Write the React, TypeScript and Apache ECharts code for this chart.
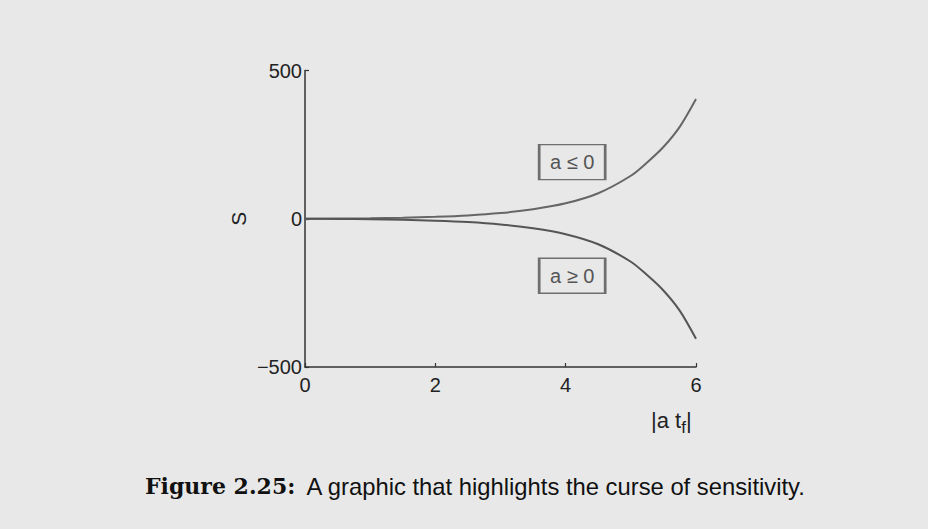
import React, { useEffect, useRef } from "react";
import * as echarts from "echarts";

const xValues = [0, 0.5, 1, 1.5, 2, 2.5, 3, 3.5, 4, 4.5, 5, 5.25, 5.5, 5.75, 6];
const upperS = [0, 0.6, 1.7, 3.5, 6.4, 11, 19, 32, 52, 86, 145, 190, 242, 310, 404];
const lowerS = [0, -0.6, -1.7, -3.5, -6.4, -11, -19, -32, -52, -86, -145, -190, -242, -310, -405];
const xTicks = [0, 2, 4, 6];
const yTicks = [-500, 0, 500];
const boxLabels = ["a \u2264 0", "a \u2265 0"];
const boxCoords: [number, number][] = [[4.1, 191], [4.1, -192]];

export default function App() {
  const ref = useRef<HTMLDivElement>(null);
  useEffect(() => {
    if (!ref.current) return;
    const chart = echarts.init(ref.current, null, { renderer: "svg" });
    const lineColor = "#555555";
    const axisColor = "#333333";
    const mk = (i: number) => ({
      coord: boxCoords[i],
      symbol: "rect",
      symbolSize: [66, 35],
      itemStyle: { color: "rgba(0,0,0,0)", borderColor: "#6e6e6e", borderWidth: 2 },
      label: {
        show: true,
        position: "inside",
        formatter: boxLabels[i],
        color: "#555",
        fontSize: 20,
        fontFamily: "Liberation Sans",
      },
    });
    chart.setOption({
      animation: false,
      backgroundColor: "#e8e8e8",
      grid: { left: 305, right: 232, top: 70.5, bottom: 162, containLabel: false },
      xAxis: {
        type: "value",
        min: xTicks[0],
        max: xTicks[xTicks.length - 1],
        interval: 2,
        axisLine: { onZero: false, lineStyle: { color: axisColor, width: 1.5 } },
        axisTick: { inside: true, length: 4, lineStyle: { color: axisColor, width: 1.2 } },
        splitLine: { show: false },
        axisLabel: { color: "#222", fontSize: 20, fontFamily: "Liberation Sans", margin: 8 },
      },
      yAxis: {
        type: "value",
        min: yTicks[0],
        max: yTicks[yTicks.length - 1],
        interval: 500,
        axisLine: { show: true, onZero: false, lineStyle: { color: axisColor, width: 1.5 } },
        axisTick: { show: true, inside: true, length: 4, lineStyle: { color: axisColor, width: 1.2 } },
        splitLine: { show: false },
        axisLabel: {
          color: "#222",
          fontSize: 20,
          fontFamily: "Liberation Sans",
          margin: 3,
          formatter: (v: number) => (v < 0 ? "\u2212" + Math.abs(v) : String(v)),
        },
        name: "S",
        nameLocation: "middle",
        nameRotate: 90,
        nameGap: 56,
        nameTextStyle: { color: "#222", fontSize: 21, fontFamily: "Liberation Sans" },
      },
      series: [
        {
          type: "line",
          data: xValues.map((x, i) => [x, upperS[i]]),
          smooth: 0.3,
          symbol: "none",
          lineStyle: { color: "#666666", width: 2 },
          markPoint: { data: [mk(0)], silent: true },
          z: 2,
        },
        {
          type: "line",
          data: xValues.map((x, i) => [x, lowerS[i]]),
          smooth: 0.3,
          symbol: "none",
          lineStyle: { color: lineColor, width: 2 },
          markPoint: { data: [mk(1)], silent: true },
          z: 3,
        },
      ],
      graphic: [
        {
          type: "text",
          left: 651,
          top: 409,
          style: {
            text: "{n||a t}{s|f}{n||}",
            rich: {
              n: { fontSize: 22, fontFamily: "Liberation Sans", fill: "#222" },
              s: { fontSize: 17, fontFamily: "Liberation Sans", fill: "#222", padding: [15, 0, 0, 0] },
            },
          },
        },
        {
          type: "text",
          left: 145,
          top: 474,
          style: {
            text: "{b|Figure 2.25:}{n| A graphic that highlights the curse of sensitivity.}",
            rich: {
              b: { fontSize: 22, fontFamily: "DejaVu Serif", fontWeight: "bold", fill: "#111" },
              n: { fontSize: 23.8, fontFamily: "Liberation Sans", fill: "#111", padding: [0, 0, 0, 6] },
            },
          },
        },
      ],
    });
    return () => chart.dispose();
  }, []);
  return (
    <div
      ref={ref}
      style={{ position: "fixed", left: 0, top: 0, width: 928, height: 529 }}
    />
  );
}
